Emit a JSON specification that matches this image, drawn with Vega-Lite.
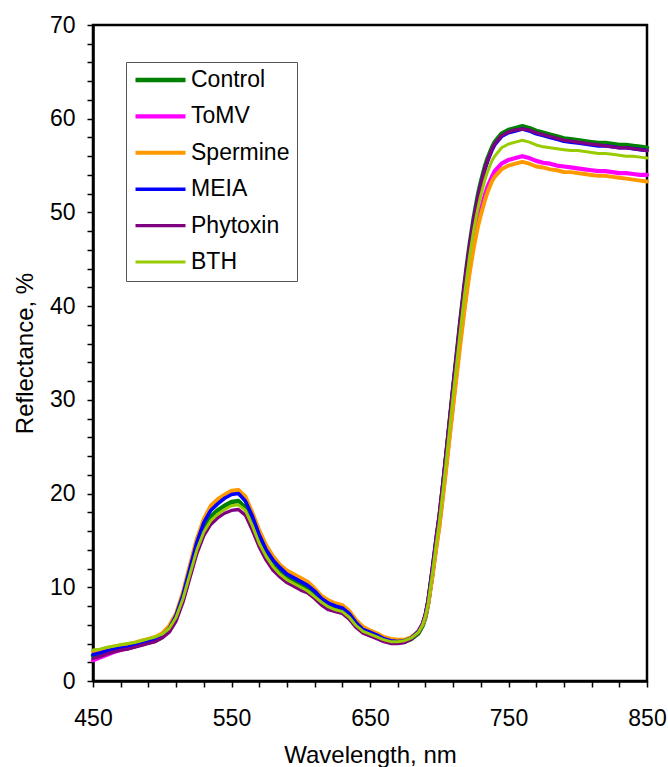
{
"$schema": "https://vega.github.io/schema/vega-lite/v6.json",
"width": 554, "height": 656,
"autosize": "none",
"padding": {"left": 93, "top": 25, "right": 21, "bottom": 86},
"background": "white",
"config": {"view": {"stroke": "black", "strokeWidth": 2.5}, "font": "Liberation Sans"},
"data": {"values": [
{"s":"Control","w":450,"r":2.7},{"s":"Control","w":455,"r":2.9},{"s":"Control","w":460,"r":3.1},{"s":"Control","w":465,"r":3.3},{"s":"Control","w":470,"r":3.4},{"s":"Control","w":475,"r":3.5},{"s":"Control","w":480,"r":3.7},{"s":"Control","w":485,"r":3.9},{"s":"Control","w":490,"r":4.1},{"s":"Control","w":495,"r":4.3},{"s":"Control","w":500,"r":4.7},{"s":"Control","w":505,"r":5.4},{"s":"Control","w":510,"r":6.7},{"s":"Control","w":515,"r":8.8},{"s":"Control","w":520,"r":11.5},{"s":"Control","w":525,"r":14.2},{"s":"Control","w":530,"r":16.2},{"s":"Control","w":535,"r":17.5},{"s":"Control","w":540,"r":18.2},{"s":"Control","w":545,"r":18.7},{"s":"Control","w":550,"r":19.1},{"s":"Control","w":555,"r":19.2},{"s":"Control","w":560,"r":18.5},{"s":"Control","w":565,"r":16.9},{"s":"Control","w":570,"r":15.0},{"s":"Control","w":575,"r":13.5},{"s":"Control","w":580,"r":12.4},{"s":"Control","w":585,"r":11.6},{"s":"Control","w":590,"r":11.0},{"s":"Control","w":595,"r":10.6},{"s":"Control","w":600,"r":10.2},{"s":"Control","w":605,"r":9.8},{"s":"Control","w":610,"r":9.2},{"s":"Control","w":615,"r":8.5},{"s":"Control","w":620,"r":8.0},{"s":"Control","w":625,"r":7.7},{"s":"Control","w":630,"r":7.5},{"s":"Control","w":635,"r":6.9},{"s":"Control","w":640,"r":6.0},{"s":"Control","w":645,"r":5.3},{"s":"Control","w":650,"r":5.0},{"s":"Control","w":655,"r":4.7},{"s":"Control","w":660,"r":4.4},{"s":"Control","w":665,"r":4.2},{"s":"Control","w":670,"r":4.1},{"s":"Control","w":675,"r":4.2},{"s":"Control","w":680,"r":4.5},{"s":"Control","w":685,"r":5.1},{"s":"Control","w":688,"r":5.9},{"s":"Control","w":690,"r":6.8},{"s":"Control","w":692,"r":8.3},{"s":"Control","w":695,"r":11.5},{"s":"Control","w":698,"r":15.0},{"s":"Control","w":700,"r":17.2},{"s":"Control","w":703,"r":21.2},{"s":"Control","w":705,"r":24.0},{"s":"Control","w":707,"r":26.9},{"s":"Control","w":710,"r":31.2},{"s":"Control","w":712,"r":34.0},{"s":"Control","w":715,"r":38.1},{"s":"Control","w":718,"r":42.0},{"s":"Control","w":720,"r":44.4},{"s":"Control","w":722,"r":46.6},{"s":"Control","w":725,"r":49.5},{"s":"Control","w":728,"r":51.9},{"s":"Control","w":730,"r":53.2},{"s":"Control","w":733,"r":54.9},{"s":"Control","w":735,"r":55.8},{"s":"Control","w":738,"r":56.9},{"s":"Control","w":740,"r":57.5},{"s":"Control","w":745,"r":58.4},{"s":"Control","w":750,"r":58.8},{"s":"Control","w":755,"r":59.0},{"s":"Control","w":760,"r":59.2},{"s":"Control","w":765,"r":59.0},{"s":"Control","w":770,"r":58.7},{"s":"Control","w":775,"r":58.5},{"s":"Control","w":780,"r":58.3},{"s":"Control","w":785,"r":58.1},{"s":"Control","w":790,"r":57.9},{"s":"Control","w":795,"r":57.8},{"s":"Control","w":800,"r":57.7},{"s":"Control","w":805,"r":57.6},{"s":"Control","w":810,"r":57.5},{"s":"Control","w":815,"r":57.4},{"s":"Control","w":820,"r":57.4},{"s":"Control","w":825,"r":57.3},{"s":"Control","w":830,"r":57.2},{"s":"Control","w":835,"r":57.2},{"s":"Control","w":840,"r":57.1},{"s":"Control","w":845,"r":57.0},{"s":"Control","w":850,"r":56.9},
{"s":"ToMV","w":450,"r":2.2},{"s":"ToMV","w":455,"r":2.5},{"s":"ToMV","w":460,"r":2.8},{"s":"ToMV","w":465,"r":3.1},{"s":"ToMV","w":470,"r":3.3},{"s":"ToMV","w":475,"r":3.5},{"s":"ToMV","w":480,"r":3.7},{"s":"ToMV","w":485,"r":3.9},{"s":"ToMV","w":490,"r":4.2},{"s":"ToMV","w":495,"r":4.4},{"s":"ToMV","w":500,"r":4.9},{"s":"ToMV","w":505,"r":5.7},{"s":"ToMV","w":510,"r":7.0},{"s":"ToMV","w":515,"r":9.2},{"s":"ToMV","w":520,"r":12.1},{"s":"ToMV","w":525,"r":14.9},{"s":"ToMV","w":530,"r":17.0},{"s":"ToMV","w":535,"r":18.4},{"s":"ToMV","w":540,"r":19.1},{"s":"ToMV","w":545,"r":19.6},{"s":"ToMV","w":550,"r":20.1},{"s":"ToMV","w":555,"r":20.2},{"s":"ToMV","w":560,"r":19.4},{"s":"ToMV","w":565,"r":17.7},{"s":"ToMV","w":570,"r":15.8},{"s":"ToMV","w":575,"r":14.2},{"s":"ToMV","w":580,"r":13.0},{"s":"ToMV","w":585,"r":12.2},{"s":"ToMV","w":590,"r":11.5},{"s":"ToMV","w":595,"r":11.1},{"s":"ToMV","w":600,"r":10.7},{"s":"ToMV","w":605,"r":10.3},{"s":"ToMV","w":610,"r":9.7},{"s":"ToMV","w":615,"r":8.9},{"s":"ToMV","w":620,"r":8.4},{"s":"ToMV","w":625,"r":8.1},{"s":"ToMV","w":630,"r":7.9},{"s":"ToMV","w":635,"r":7.3},{"s":"ToMV","w":640,"r":6.3},{"s":"ToMV","w":645,"r":5.6},{"s":"ToMV","w":650,"r":5.2},{"s":"ToMV","w":655,"r":4.9},{"s":"ToMV","w":660,"r":4.6},{"s":"ToMV","w":665,"r":4.3},{"s":"ToMV","w":670,"r":4.2},{"s":"ToMV","w":675,"r":4.3},{"s":"ToMV","w":680,"r":4.6},{"s":"ToMV","w":685,"r":5.3},{"s":"ToMV","w":688,"r":6.1},{"s":"ToMV","w":690,"r":7.0},{"s":"ToMV","w":692,"r":8.4},{"s":"ToMV","w":695,"r":11.3},{"s":"ToMV","w":698,"r":14.6},{"s":"ToMV","w":700,"r":16.6},{"s":"ToMV","w":703,"r":20.4},{"s":"ToMV","w":705,"r":23.0},{"s":"ToMV","w":707,"r":25.7},{"s":"ToMV","w":710,"r":29.7},{"s":"ToMV","w":712,"r":32.3},{"s":"ToMV","w":715,"r":36.2},{"s":"ToMV","w":718,"r":39.8},{"s":"ToMV","w":720,"r":42.0},{"s":"ToMV","w":722,"r":44.1},{"s":"ToMV","w":725,"r":46.8},{"s":"ToMV","w":728,"r":49.1},{"s":"ToMV","w":730,"r":50.3},{"s":"ToMV","w":733,"r":51.9},{"s":"ToMV","w":735,"r":52.8},{"s":"ToMV","w":738,"r":53.8},{"s":"ToMV","w":740,"r":54.4},{"s":"ToMV","w":745,"r":55.2},{"s":"ToMV","w":750,"r":55.6},{"s":"ToMV","w":755,"r":55.8},{"s":"ToMV","w":760,"r":56.0},{"s":"ToMV","w":765,"r":55.8},{"s":"ToMV","w":770,"r":55.5},{"s":"ToMV","w":775,"r":55.3},{"s":"ToMV","w":780,"r":55.2},{"s":"ToMV","w":785,"r":55.0},{"s":"ToMV","w":790,"r":54.9},{"s":"ToMV","w":795,"r":54.8},{"s":"ToMV","w":800,"r":54.7},{"s":"ToMV","w":805,"r":54.6},{"s":"ToMV","w":810,"r":54.5},{"s":"ToMV","w":815,"r":54.4},{"s":"ToMV","w":820,"r":54.4},{"s":"ToMV","w":825,"r":54.3},{"s":"ToMV","w":830,"r":54.2},{"s":"ToMV","w":835,"r":54.2},{"s":"ToMV","w":840,"r":54.1},{"s":"ToMV","w":845,"r":54.0},{"s":"ToMV","w":850,"r":54.0},
{"s":"Spermine","w":450,"r":3.2},{"s":"Spermine","w":455,"r":3.3},{"s":"Spermine","w":460,"r":3.5},{"s":"Spermine","w":465,"r":3.7},{"s":"Spermine","w":470,"r":3.8},{"s":"Spermine","w":475,"r":3.9},{"s":"Spermine","w":480,"r":4.1},{"s":"Spermine","w":485,"r":4.3},{"s":"Spermine","w":490,"r":4.5},{"s":"Spermine","w":495,"r":4.7},{"s":"Spermine","w":500,"r":5.1},{"s":"Spermine","w":505,"r":5.9},{"s":"Spermine","w":510,"r":7.2},{"s":"Spermine","w":515,"r":9.5},{"s":"Spermine","w":520,"r":12.4},{"s":"Spermine","w":525,"r":15.2},{"s":"Spermine","w":530,"r":17.3},{"s":"Spermine","w":535,"r":18.7},{"s":"Spermine","w":540,"r":19.4},{"s":"Spermine","w":545,"r":19.9},{"s":"Spermine","w":550,"r":20.3},{"s":"Spermine","w":555,"r":20.4},{"s":"Spermine","w":560,"r":19.7},{"s":"Spermine","w":565,"r":18.0},{"s":"Spermine","w":570,"r":16.1},{"s":"Spermine","w":575,"r":14.5},{"s":"Spermine","w":580,"r":13.3},{"s":"Spermine","w":585,"r":12.4},{"s":"Spermine","w":590,"r":11.8},{"s":"Spermine","w":595,"r":11.4},{"s":"Spermine","w":600,"r":11.0},{"s":"Spermine","w":605,"r":10.6},{"s":"Spermine","w":610,"r":9.9},{"s":"Spermine","w":615,"r":9.1},{"s":"Spermine","w":620,"r":8.6},{"s":"Spermine","w":625,"r":8.3},{"s":"Spermine","w":630,"r":8.1},{"s":"Spermine","w":635,"r":7.5},{"s":"Spermine","w":640,"r":6.5},{"s":"Spermine","w":645,"r":5.8},{"s":"Spermine","w":650,"r":5.4},{"s":"Spermine","w":655,"r":5.1},{"s":"Spermine","w":660,"r":4.7},{"s":"Spermine","w":665,"r":4.5},{"s":"Spermine","w":670,"r":4.4},{"s":"Spermine","w":675,"r":4.4},{"s":"Spermine","w":680,"r":4.7},{"s":"Spermine","w":685,"r":5.3},{"s":"Spermine","w":688,"r":6.0},{"s":"Spermine","w":690,"r":6.9},{"s":"Spermine","w":692,"r":8.2},{"s":"Spermine","w":695,"r":11.0},{"s":"Spermine","w":698,"r":14.3},{"s":"Spermine","w":700,"r":16.3},{"s":"Spermine","w":703,"r":20.0},{"s":"Spermine","w":705,"r":22.6},{"s":"Spermine","w":707,"r":25.3},{"s":"Spermine","w":710,"r":29.2},{"s":"Spermine","w":712,"r":31.8},{"s":"Spermine","w":715,"r":35.6},{"s":"Spermine","w":718,"r":39.3},{"s":"Spermine","w":720,"r":41.5},{"s":"Spermine","w":722,"r":43.6},{"s":"Spermine","w":725,"r":46.3},{"s":"Spermine","w":728,"r":48.5},{"s":"Spermine","w":730,"r":49.7},{"s":"Spermine","w":733,"r":51.3},{"s":"Spermine","w":735,"r":52.2},{"s":"Spermine","w":738,"r":53.3},{"s":"Spermine","w":740,"r":53.8},{"s":"Spermine","w":745,"r":54.6},{"s":"Spermine","w":750,"r":55.0},{"s":"Spermine","w":755,"r":55.2},{"s":"Spermine","w":760,"r":55.4},{"s":"Spermine","w":765,"r":55.2},{"s":"Spermine","w":770,"r":54.9},{"s":"Spermine","w":775,"r":54.8},{"s":"Spermine","w":780,"r":54.6},{"s":"Spermine","w":785,"r":54.5},{"s":"Spermine","w":790,"r":54.3},{"s":"Spermine","w":795,"r":54.3},{"s":"Spermine","w":800,"r":54.2},{"s":"Spermine","w":805,"r":54.1},{"s":"Spermine","w":810,"r":54.0},{"s":"Spermine","w":815,"r":53.9},{"s":"Spermine","w":820,"r":53.9},{"s":"Spermine","w":825,"r":53.8},{"s":"Spermine","w":830,"r":53.7},{"s":"Spermine","w":835,"r":53.6},{"s":"Spermine","w":840,"r":53.5},{"s":"Spermine","w":845,"r":53.4},{"s":"Spermine","w":850,"r":53.3},
{"s":"MEIA","w":450,"r":2.8},{"s":"MEIA","w":455,"r":3.0},{"s":"MEIA","w":460,"r":3.2},{"s":"MEIA","w":465,"r":3.4},{"s":"MEIA","w":470,"r":3.5},{"s":"MEIA","w":475,"r":3.6},{"s":"MEIA","w":480,"r":3.8},{"s":"MEIA","w":485,"r":4.0},{"s":"MEIA","w":490,"r":4.2},{"s":"MEIA","w":495,"r":4.5},{"s":"MEIA","w":500,"r":4.9},{"s":"MEIA","w":505,"r":5.6},{"s":"MEIA","w":510,"r":7.0},{"s":"MEIA","w":515,"r":9.2},{"s":"MEIA","w":520,"r":12.0},{"s":"MEIA","w":525,"r":14.8},{"s":"MEIA","w":530,"r":16.9},{"s":"MEIA","w":535,"r":18.2},{"s":"MEIA","w":540,"r":18.9},{"s":"MEIA","w":545,"r":19.5},{"s":"MEIA","w":550,"r":19.9},{"s":"MEIA","w":555,"r":20.0},{"s":"MEIA","w":560,"r":19.2},{"s":"MEIA","w":565,"r":17.6},{"s":"MEIA","w":570,"r":15.6},{"s":"MEIA","w":575,"r":14.0},{"s":"MEIA","w":580,"r":12.9},{"s":"MEIA","w":585,"r":12.1},{"s":"MEIA","w":590,"r":11.4},{"s":"MEIA","w":595,"r":11.0},{"s":"MEIA","w":600,"r":10.6},{"s":"MEIA","w":605,"r":10.2},{"s":"MEIA","w":610,"r":9.6},{"s":"MEIA","w":615,"r":8.8},{"s":"MEIA","w":620,"r":8.3},{"s":"MEIA","w":625,"r":8.0},{"s":"MEIA","w":630,"r":7.8},{"s":"MEIA","w":635,"r":7.2},{"s":"MEIA","w":640,"r":6.2},{"s":"MEIA","w":645,"r":5.5},{"s":"MEIA","w":650,"r":5.2},{"s":"MEIA","w":655,"r":4.9},{"s":"MEIA","w":660,"r":4.5},{"s":"MEIA","w":665,"r":4.3},{"s":"MEIA","w":670,"r":4.2},{"s":"MEIA","w":675,"r":4.3},{"s":"MEIA","w":680,"r":4.6},{"s":"MEIA","w":685,"r":5.3},{"s":"MEIA","w":688,"r":6.1},{"s":"MEIA","w":690,"r":7.1},{"s":"MEIA","w":692,"r":8.7},{"s":"MEIA","w":695,"r":12.0},{"s":"MEIA","w":698,"r":15.5},{"s":"MEIA","w":700,"r":17.6},{"s":"MEIA","w":703,"r":21.5},{"s":"MEIA","w":705,"r":24.3},{"s":"MEIA","w":707,"r":27.1},{"s":"MEIA","w":710,"r":31.3},{"s":"MEIA","w":712,"r":34.0},{"s":"MEIA","w":715,"r":38.0},{"s":"MEIA","w":718,"r":41.9},{"s":"MEIA","w":720,"r":44.2},{"s":"MEIA","w":722,"r":46.4},{"s":"MEIA","w":725,"r":49.3},{"s":"MEIA","w":728,"r":51.6},{"s":"MEIA","w":730,"r":52.9},{"s":"MEIA","w":733,"r":54.6},{"s":"MEIA","w":735,"r":55.5},{"s":"MEIA","w":738,"r":56.6},{"s":"MEIA","w":740,"r":57.2},{"s":"MEIA","w":745,"r":58.1},{"s":"MEIA","w":750,"r":58.5},{"s":"MEIA","w":755,"r":58.7},{"s":"MEIA","w":760,"r":58.9},{"s":"MEIA","w":765,"r":58.7},{"s":"MEIA","w":770,"r":58.4},{"s":"MEIA","w":775,"r":58.2},{"s":"MEIA","w":780,"r":58.0},{"s":"MEIA","w":785,"r":57.8},{"s":"MEIA","w":790,"r":57.6},{"s":"MEIA","w":795,"r":57.5},{"s":"MEIA","w":800,"r":57.4},{"s":"MEIA","w":805,"r":57.3},{"s":"MEIA","w":810,"r":57.2},{"s":"MEIA","w":815,"r":57.1},{"s":"MEIA","w":820,"r":57.1},{"s":"MEIA","w":825,"r":57.0},{"s":"MEIA","w":830,"r":56.9},{"s":"MEIA","w":835,"r":56.9},{"s":"MEIA","w":840,"r":56.8},{"s":"MEIA","w":845,"r":56.7},{"s":"MEIA","w":850,"r":56.6},
{"s":"Phytoxin","w":450,"r":2.4},{"s":"Phytoxin","w":455,"r":2.6},{"s":"Phytoxin","w":460,"r":2.9},{"s":"Phytoxin","w":465,"r":3.1},{"s":"Phytoxin","w":470,"r":3.3},{"s":"Phytoxin","w":475,"r":3.4},{"s":"Phytoxin","w":480,"r":3.6},{"s":"Phytoxin","w":485,"r":3.8},{"s":"Phytoxin","w":490,"r":4.0},{"s":"Phytoxin","w":495,"r":4.2},{"s":"Phytoxin","w":500,"r":4.6},{"s":"Phytoxin","w":505,"r":5.2},{"s":"Phytoxin","w":510,"r":6.4},{"s":"Phytoxin","w":515,"r":8.4},{"s":"Phytoxin","w":520,"r":11.0},{"s":"Phytoxin","w":525,"r":13.6},{"s":"Phytoxin","w":530,"r":15.5},{"s":"Phytoxin","w":535,"r":16.7},{"s":"Phytoxin","w":540,"r":17.4},{"s":"Phytoxin","w":545,"r":17.9},{"s":"Phytoxin","w":550,"r":18.2},{"s":"Phytoxin","w":555,"r":18.3},{"s":"Phytoxin","w":560,"r":17.7},{"s":"Phytoxin","w":565,"r":16.1},{"s":"Phytoxin","w":570,"r":14.3},{"s":"Phytoxin","w":575,"r":12.9},{"s":"Phytoxin","w":580,"r":11.8},{"s":"Phytoxin","w":585,"r":11.1},{"s":"Phytoxin","w":590,"r":10.5},{"s":"Phytoxin","w":595,"r":10.1},{"s":"Phytoxin","w":600,"r":9.7},{"s":"Phytoxin","w":605,"r":9.4},{"s":"Phytoxin","w":610,"r":8.8},{"s":"Phytoxin","w":615,"r":8.1},{"s":"Phytoxin","w":620,"r":7.6},{"s":"Phytoxin","w":625,"r":7.4},{"s":"Phytoxin","w":630,"r":7.2},{"s":"Phytoxin","w":635,"r":6.6},{"s":"Phytoxin","w":640,"r":5.7},{"s":"Phytoxin","w":645,"r":5.1},{"s":"Phytoxin","w":650,"r":4.8},{"s":"Phytoxin","w":655,"r":4.5},{"s":"Phytoxin","w":660,"r":4.2},{"s":"Phytoxin","w":665,"r":4.0},{"s":"Phytoxin","w":670,"r":4.0},{"s":"Phytoxin","w":675,"r":4.1},{"s":"Phytoxin","w":680,"r":4.5},{"s":"Phytoxin","w":685,"r":5.2},{"s":"Phytoxin","w":688,"r":6.1},{"s":"Phytoxin","w":690,"r":7.1},{"s":"Phytoxin","w":692,"r":8.7},{"s":"Phytoxin","w":695,"r":12.0},{"s":"Phytoxin","w":698,"r":15.6},{"s":"Phytoxin","w":700,"r":17.8},{"s":"Phytoxin","w":703,"r":21.7},{"s":"Phytoxin","w":705,"r":24.5},{"s":"Phytoxin","w":707,"r":27.3},{"s":"Phytoxin","w":710,"r":31.6},{"s":"Phytoxin","w":712,"r":34.3},{"s":"Phytoxin","w":715,"r":38.4},{"s":"Phytoxin","w":718,"r":42.2},{"s":"Phytoxin","w":720,"r":44.5},{"s":"Phytoxin","w":722,"r":46.6},{"s":"Phytoxin","w":725,"r":49.4},{"s":"Phytoxin","w":728,"r":51.7},{"s":"Phytoxin","w":730,"r":53.0},{"s":"Phytoxin","w":733,"r":54.7},{"s":"Phytoxin","w":735,"r":55.6},{"s":"Phytoxin","w":738,"r":56.7},{"s":"Phytoxin","w":740,"r":57.3},{"s":"Phytoxin","w":745,"r":58.2},{"s":"Phytoxin","w":750,"r":58.6},{"s":"Phytoxin","w":755,"r":58.8},{"s":"Phytoxin","w":760,"r":58.9},{"s":"Phytoxin","w":765,"r":58.8},{"s":"Phytoxin","w":770,"r":58.5},{"s":"Phytoxin","w":775,"r":58.3},{"s":"Phytoxin","w":780,"r":58.1},{"s":"Phytoxin","w":785,"r":57.9},{"s":"Phytoxin","w":790,"r":57.7},{"s":"Phytoxin","w":795,"r":57.6},{"s":"Phytoxin","w":800,"r":57.5},{"s":"Phytoxin","w":805,"r":57.4},{"s":"Phytoxin","w":810,"r":57.3},{"s":"Phytoxin","w":815,"r":57.2},{"s":"Phytoxin","w":820,"r":57.1},{"s":"Phytoxin","w":825,"r":57.0},{"s":"Phytoxin","w":830,"r":56.9},{"s":"Phytoxin","w":835,"r":56.9},{"s":"Phytoxin","w":840,"r":56.8},{"s":"Phytoxin","w":845,"r":56.7},{"s":"Phytoxin","w":850,"r":56.6},
{"s":"BTH","w":450,"r":3.3},{"s":"BTH","w":455,"r":3.4},{"s":"BTH","w":460,"r":3.6},{"s":"BTH","w":465,"r":3.7},{"s":"BTH","w":470,"r":3.9},{"s":"BTH","w":475,"r":4.0},{"s":"BTH","w":480,"r":4.1},{"s":"BTH","w":485,"r":4.3},{"s":"BTH","w":490,"r":4.5},{"s":"BTH","w":495,"r":4.7},{"s":"BTH","w":500,"r":5.0},{"s":"BTH","w":505,"r":5.6},{"s":"BTH","w":510,"r":6.8},{"s":"BTH","w":515,"r":8.8},{"s":"BTH","w":520,"r":11.4},{"s":"BTH","w":525,"r":14.0},{"s":"BTH","w":530,"r":15.9},{"s":"BTH","w":535,"r":17.1},{"s":"BTH","w":540,"r":17.8},{"s":"BTH","w":545,"r":18.3},{"s":"BTH","w":550,"r":18.7},{"s":"BTH","w":555,"r":18.8},{"s":"BTH","w":560,"r":18.2},{"s":"BTH","w":565,"r":16.6},{"s":"BTH","w":570,"r":14.7},{"s":"BTH","w":575,"r":13.3},{"s":"BTH","w":580,"r":12.2},{"s":"BTH","w":585,"r":11.4},{"s":"BTH","w":590,"r":10.8},{"s":"BTH","w":595,"r":10.4},{"s":"BTH","w":600,"r":10.0},{"s":"BTH","w":605,"r":9.6},{"s":"BTH","w":610,"r":9.0},{"s":"BTH","w":615,"r":8.4},{"s":"BTH","w":620,"r":7.9},{"s":"BTH","w":625,"r":7.6},{"s":"BTH","w":630,"r":7.4},{"s":"BTH","w":635,"r":6.8},{"s":"BTH","w":640,"r":5.9},{"s":"BTH","w":645,"r":5.3},{"s":"BTH","w":650,"r":5.0},{"s":"BTH","w":655,"r":4.7},{"s":"BTH","w":660,"r":4.4},{"s":"BTH","w":665,"r":4.2},{"s":"BTH","w":670,"r":4.2},{"s":"BTH","w":675,"r":4.3},{"s":"BTH","w":680,"r":4.6},{"s":"BTH","w":685,"r":5.2},{"s":"BTH","w":688,"r":6.0},{"s":"BTH","w":690,"r":6.9},{"s":"BTH","w":692,"r":8.3},{"s":"BTH","w":695,"r":11.4},{"s":"BTH","w":698,"r":14.8},{"s":"BTH","w":700,"r":16.9},{"s":"BTH","w":703,"r":20.7},{"s":"BTH","w":705,"r":23.4},{"s":"BTH","w":707,"r":26.2},{"s":"BTH","w":710,"r":30.4},{"s":"BTH","w":712,"r":33.1},{"s":"BTH","w":715,"r":37.1},{"s":"BTH","w":718,"r":40.9},{"s":"BTH","w":720,"r":43.2},{"s":"BTH","w":722,"r":45.4},{"s":"BTH","w":725,"r":48.2},{"s":"BTH","w":728,"r":50.5},{"s":"BTH","w":730,"r":51.8},{"s":"BTH","w":733,"r":53.5},{"s":"BTH","w":735,"r":54.4},{"s":"BTH","w":738,"r":55.5},{"s":"BTH","w":740,"r":56.0},{"s":"BTH","w":745,"r":56.9},{"s":"BTH","w":750,"r":57.3},{"s":"BTH","w":755,"r":57.5},{"s":"BTH","w":760,"r":57.7},{"s":"BTH","w":765,"r":57.5},{"s":"BTH","w":770,"r":57.2},{"s":"BTH","w":775,"r":57.0},{"s":"BTH","w":780,"r":56.9},{"s":"BTH","w":785,"r":56.8},{"s":"BTH","w":790,"r":56.7},{"s":"BTH","w":795,"r":56.6},{"s":"BTH","w":800,"r":56.6},{"s":"BTH","w":805,"r":56.5},{"s":"BTH","w":810,"r":56.4},{"s":"BTH","w":815,"r":56.3},{"s":"BTH","w":820,"r":56.3},{"s":"BTH","w":825,"r":56.2},{"s":"BTH","w":830,"r":56.1},{"s":"BTH","w":835,"r":56.0},{"s":"BTH","w":840,"r":56.0},{"s":"BTH","w":845,"r":55.9},{"s":"BTH","w":850,"r":55.8}
]},
"mark": {"type": "line", "strokeJoin": "round", "strokeCap": "round"},
"encoding": {
"x": {"field": "w", "type": "quantitative", "scale": {"domain": [450, 850], "nice": false, "zero": false},
 "axis": {"values": [450,470,490,510,530,550,570,590,610,630,650,670,690,710,730,750,770,790,810,830,850],
  "labelExpr": "(datum.value - 450) % 100 === 0 ? datum.label : ''", "labelOverlap": false, "labelFlush": false,
  "grid": false, "domainColor": "black", "domainWidth": 2.5, "tickColor": "black", "tickWidth": 1.5, "tickSize": 6,
  "labelFontSize": 23, "labelColor": "black", "labelPadding": 20, "labelFont": "Liberation Sans",
  "title": "Wavelength, nm", "titleFontSize": 24, "titleFontWeight": "normal", "titleColor": "black", "titleFont": "Liberation Sans", "titlePadding": 13}},
"y": {"field": "r", "type": "quantitative", "scale": {"domain": [0, 70], "nice": false},
 "axis": {"values": [0,2,4,6,8,10,12,14,16,18,20,22,24,26,28,30,32,34,36,38,40,42,44,46,48,50,52,54,56,58,60,62,64,66,68,70],
  "labelExpr": "datum.value % 10 === 0 ? datum.label : ''", "labelOverlap": false, "labelFlush": false,
  "grid": false, "domainColor": "black", "domainWidth": 2.5, "tickColor": "black", "tickWidth": 1.5, "tickSize": 6,
  "labelFontSize": 23, "labelColor": "black", "labelPadding": 12, "labelFont": "Liberation Sans",
  "title": "Reflectance, %", "titleFontSize": 24, "titleFontWeight": "normal", "titleColor": "black", "titleFont": "Liberation Sans", "titlePadding": 12}},
"color": {"field": "s", "type": "nominal", "sort": ["Control","ToMV","Spermine","MEIA","Phytoxin","BTH"],
 "scale": {"domain": ["Control","ToMV","Spermine","MEIA","Phytoxin","BTH"], "range": ["#008000","#ff00ff","#ff9900","#0000ff","#800080","#99cc00"]},
 "legend": {"title": null, "orient": "none", "legendX": 33, "legendY": 37, "direction": "vertical",
  "symbolType": "stroke", "symbolSize": 2500, "labelFontSize": 23, "labelFont": "Liberation Sans", "labelColor": "black",
  "labelOffset": 3, "clipHeight": 22, "rowPadding": 13.4, "padding": 7, "strokeColor": "#555555", "fillColor": "white"}},
"strokeWidth": {"field": "s", "type": "ordinal", "sort": ["Control","ToMV","Spermine","MEIA","Phytoxin","BTH"],
 "scale": {"domain": ["Control","ToMV","Spermine","MEIA","Phytoxin","BTH"], "range": [4.5, 3, 3, 3, 3, 3]},
 "legend": {"title": null, "orient": "none", "legendX": 33, "legendY": 37, "direction": "vertical",
  "symbolType": "stroke", "symbolSize": 2500, "labelFontSize": 23, "labelFont": "Liberation Sans", "labelColor": "black",
  "labelOffset": 3, "clipHeight": 22, "rowPadding": 13.4, "padding": 7, "strokeColor": "#555555", "fillColor": "white"}}
}
}
